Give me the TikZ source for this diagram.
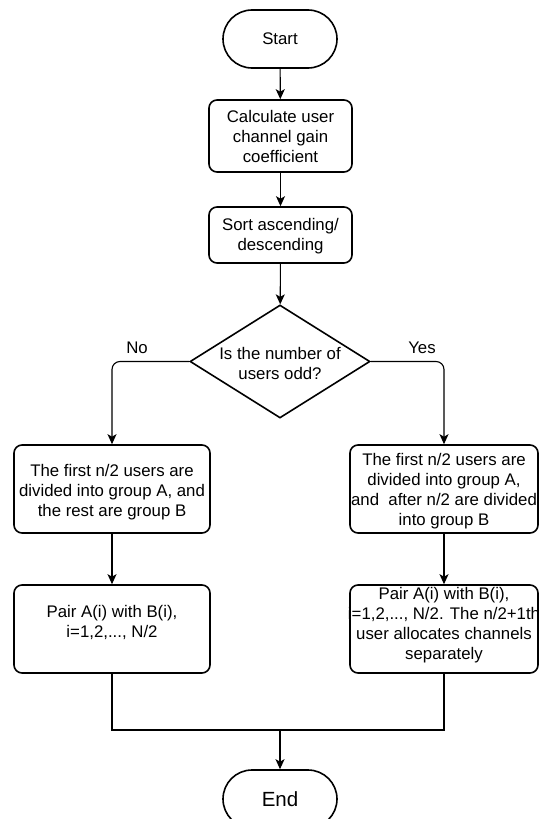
\documentclass[tikz,border=0pt]{standalone}
\usepackage{fontspec}
\setmainfont{Liberation Sans}
\usetikzlibrary{shapes.geometric,shapes.misc,arrows.meta}
\begin{document}
\begin{tikzpicture}[x=1pt,y=-1pt,
  shp/.style={draw=black,line width=1.6pt,inner sep=0pt},
  term/.style={shp,rounded rectangle,minimum width=114pt,minimum height=58pt},
  procbox/.style={shp,rounded corners=8pt,rectangle},
  dia/.style={shp,diamond,minimum width=180pt,minimum height=113pt},
  txt/.style={align=center,inner sep=0pt,font=\fontsize{16.8}{20}\selectfont},
  lbl/.style={inner sep=0pt,font=\fontsize{16.8}{20}\selectfont},
  conn/.style={line width=1.1pt,draw=black},
  arr/.style={conn,-{Stealth[length=10pt,width=9pt,inset=2.5pt]}}
]
\useasboundingbox (0,0) rectangle (540,819);
\fill[white] (0,0) rectangle (540,819);
\begin{scope}
\clip (0,0) rectangle (540,819);
% terminators
\node[term] (s) at (280,39) {};
\node[txt] (st) at (280,39) {Start};
\node[term] (e) at (280,799) {};
\node[txt,font=\fontsize{20.5}{24}\selectfont] (et) at (280,799) {End};
\end{scope}
% process boxes
\node[procbox,minimum width=143pt,minimum height=72pt] (c) at (280.5,136) {};
\node[txt] (ct) at (280.5,136) {Calculate user\\channel gain\\coefficient};
\node[procbox,minimum width=143pt,minimum height=56pt] (so) at (280.5,235) {};
\node[txt] (sot) at (280.5,236) {Sort ascending/\\descending};
% decision
\node[dia] (d) at (280,361.5) {};
\node[txt] (dt) at (280,363) {Is the number of\\users odd?};
\node[lbl] (no) at (137,348) {No};
\node[lbl] (yes) at (422,348) {Yes};
% left branch
\node[procbox,minimum width=196pt,minimum height=88pt] (l1) at (112,489) {};
\node[txt] (l1t) at (112,492) {The first n/2 users are\\divided into group A, and\\the rest are group B};
\node[procbox,minimum width=196pt,minimum height=88pt] (l2) at (112,629) {};
\node[txt] (l2t) at (112,622) {Pair A(i) with B(i),\\i=1,2,..., N/2};
% right branch
\node[procbox,minimum width=188pt,minimum height=88pt] (r1) at (444,489) {};
\node[txt] (r1t) at (444,491) {The first n/2 users are\\divided into group A,\\and\ \ after n/2 are divided\\into group B};
\node[procbox,minimum width=188pt,minimum height=88pt] (r2) at (444,629) {};
\node[txt] (r2t) at (444,625) {Pair A(i) with B(i),\\i=1,2,..., N/2. The n/2+1th\\user allocates channels\\separately};
\coordinate (j) at (280,730);
% connectors
\draw[arr] (s) -- (c);
\draw[arr] (c) -- (so);
\draw[arr] (so) -- (d);
\draw[arr,rounded corners=8pt] (d.west) -| (l1.north);
\draw[arr,rounded corners=8pt] (d.east) -| (r1.north);
\draw[arr] (l1) -- (l2);
\draw[arr] (r1) -- (r2);
\draw[conn] (l2.south) |- (j);
\draw[conn] (r2.south) |- (j);
\draw[arr] (j) -- (e);
\end{tikzpicture}
\end{document}
